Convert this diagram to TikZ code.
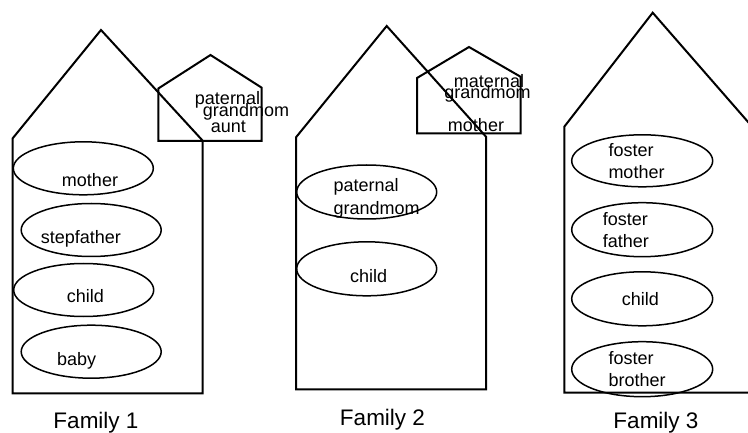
\documentclass[tikz,border=0pt]{standalone}
\usepackage{fontspec}
\setmainfont{Liberation Sans}
\usetikzlibrary{shapes.geometric}

\tikzset{
  wall/.style={line width=2pt, line join=miter},
  member/.style={draw, ellipse, line width=1.5pt, inner sep=0pt,
    minimum width=140pt, minimum height=53pt},
  who/.style={font=\fontsize{18}{21}\selectfont, inner sep=0pt,
    text height=13pt, text depth=4pt},
  famname/.style={font=\fontsize{22.5}{26}\selectfont, inner sep=0pt, anchor=base}
}

\begin{document}
\begin{tikzpicture}[x=1pt,y=-1pt]
    \useasboundingbox (0,0) rectangle (748,433);
    \clip (0,0) rectangle (748,433);
    %% Draw the houses
    \draw[wall] (12.7,393.3) -- (12.7,138.3) -- (101,30) -- (202.7,140.7) -- (202.7,393.3) -- cycle;
    \draw[wall] (158.3,141) -- (158.3,88.5) -- (210.5,55) -- (261.7,87.7) -- (261.7,141) -- cycle;
    \draw[wall] (296,389.3) -- (296,137.3) -- (386.7,26) -- (486,136.7) -- (486,389.3) -- cycle;
    \draw[wall] (417,133.5) -- (417,78) -- (469,47) -- (520.5,76.7) -- (520.5,133.5) -- cycle;
    \draw[wall] (564.3,392.7) -- (564.3,126.7) -- (652.7,12.7) -- (752,126.5) -- (752,392.7) -- cycle;
    %% Draw the family members
    \node[member] (mom1) at (83.3,168.3) {};
    \node[member] (step1) at (91.2,230) {};
    \node[member] (kid1) at (83.7,290) {};
    \node[member] (baby1) at (91.2,351.7) {};
    \node[member, minimum height=54pt] (gma2) at (366.7,192) {};
    \node[member, minimum height=54pt] (kid2) at (366.7,268.8) {};
    \node[member, minimum width=141pt, minimum height=52pt] (mom3) at (642.2,160.8) {};
    \node[member, minimum width=141pt, minimum height=54pt] (dad3) at (642.2,229.7) {};
    \node[member, minimum width=141pt, minimum height=54pt] (kid3) at (642.2,298.8) {};
    \node[member, minimum width=141pt, minimum height=55pt] (bro3) at (642.2,369.2) {};
    %% Draw the names
    \node[who] (pat1) at (227.5,100) {paternal};
    \node[who] (gran1) at (246,111.7) {grandmom};
    \node[who] (aunt1) at (228.3,128.3) {aunt};
    \node[who] (momtxt1) at (90,181.7) {mother};
    \node[who] (steptxt1) at (80.8,239.3) {stepfather};
    \node[who] (kidtxt1) at (85.3,298.3) {child};
    \node[who] (babytxt1) at (76.7,360.7) {baby};
    \node[who] (mat2) at (489,83.3) {maternal};
    \node[who] (gran2) at (487.5,94.3) {grandmom};
    \node[who] (momtxt2) at (476,127.3) {mother};
    \node[who, anchor=west] (pattxt2) at (333.3,187.3) {paternal};
    \node[who, anchor=west] (grantxt2) at (333.3,210) {grandmom};
    \node[who] (kidtxt2) at (368.7,278.3) {child};
    \node[who, anchor=west] (fos3a) at (608.3,151.7) {foster};
    \node[who, anchor=west] (momtxt3) at (608.3,174) {mother};
    \node[who, anchor=west] (fos3b) at (602.7,220.7) {foster};
    \node[who, anchor=west] (dadtxt3) at (602.7,243.3) {father};
    \node[who] (kidtxt3) at (640.3,300.7) {child};
    \node[who, anchor=west] (fos3c) at (608.3,360) {foster};
    \node[who, anchor=west] (brotxt3) at (608.3,381.7) {brother};
    %% Draw the family labels
    \node[famname] (fam1) at (96,428) {Family 1};
    \node[famname] (fam2) at (382.5,425) {Family 2};
    \node[famname] (fam3) at (656,428) {Family 3};
\end{tikzpicture}
\end{document}
